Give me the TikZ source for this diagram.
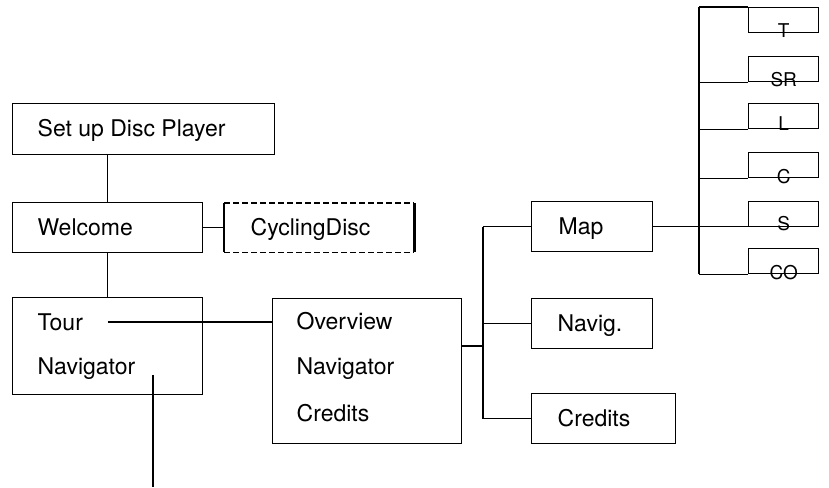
\documentclass[tikz,border=0pt]{standalone}
\usepackage{fontspec}
\setmainfont{TeX Gyre Heros}
\begin{document}
\begin{tikzpicture}[x=1pt,y=-1pt,
  line width=1.4pt,
  box/.style={draw, rectangle, anchor=north west, inner sep=0pt},
  lbl/.style={anchor=west, inner sep=0pt, font=\fontsize{23}{28}\selectfont, text height=16.5pt, text depth=0pt},
  sbox/.style={draw, rectangle, anchor=north west, inner sep=0pt, minimum width=70pt, minimum height=25pt},
  slbl/.style={inner sep=0pt, font=\fontsize{19}{23}\selectfont, text height=13.5pt, text depth=0pt}]
\useasboundingbox (0,0) rectangle (829,487);

% left column
\node[box, minimum width=262pt, minimum height=51pt] (setup) at (12,103) {};
\node[lbl] (setupt) at (37,128.5) {Set up Disc Player};
\node[box, minimum width=190pt, minimum height=50pt] (wel) at (12,202) {};
\node[lbl] (welt) at (37,227) {Welcome};
\node[inner sep=0pt, minimum width=189pt, minimum height=48pt, anchor=north west] (cyc) at (224,203) {};
\node[lbl] (cyct) at (250,227) {CyclingDisc};
\draw[dashed, dash pattern=on 6pt off 3pt] (cyc.north west) -- (cyc.north east);
\draw[dashed, dash pattern=on 6pt off 3pt] (cyc.south west) -- (cyc.south east);
\draw[line width=1.9pt] (cyc.north west) -- (cyc.south west);
\draw[line width=2.3pt] (cyc.north east) -- (cyc.south east);

\node[box, minimum width=190pt, minimum height=97pt] (tn) at (12,297) {};
\node[lbl] (tour) at (37,322) {Tour};
\node[lbl] (tnav) at (37,366) {Navigator};

% middle
\node[box, minimum width=189pt, minimum height=145pt] (ov) at (272,298) {};
\node[lbl] (ovt) at (296,321) {Overview};
\node[lbl] (ovn) at (296,366) {Navigator};
\node[lbl] (ovc) at (296,413) {Credits};

\node[box, minimum width=121pt, minimum height=50pt] (map) at (531,201) {};
\node[lbl] (mapt) at (558,226) {Map};
\node[box, minimum width=121pt, minimum height=50pt] (nav) at (531,298) {};
\node[lbl] (navt) at (557,323) {Navig.};
\node[box, minimum width=144pt, minimum height=50pt] (cred) at (531,393) {};
\node[lbl] (credt) at (557,418) {Credits};

% small boxes
\node[sbox] (bT) at (748,7) {};
\node[sbox] (bSR) at (748,56) {};
\node[sbox] (bL) at (748,103) {};
\node[sbox] (bC) at (748,152) {};
\node[sbox] (bS) at (748,201) {};
\node[sbox] (bCO) at (748,248) {};
\node[slbl] (tT) at ([yshift=3pt]bT.south) {T};
\node[slbl] (tSR) at ([yshift=3pt]bSR.south) {SR};
\node[slbl] (tL) at ([yshift=6pt]bL.south) {L};
\node[slbl] (tC) at ([yshift=2pt]bC.south) {C};
\node[slbl] (tS) at ([yshift=4pt]bS.south) {S};
\node[slbl] (tCO) at ([yshift=2pt]bCO.south) {CO};

% connectors
\coordinate (tk) at (699,0);
\coordinate (j1) at (483,346);
\coordinate (navend) at (153,487);

\draw (setup.south -| wel.north) -- (wel.north);
\draw (wel.south) -- (tn.north);
\draw (wel.east) -- (cyc.west);
\draw ([xshift=24pt]tour.east) -- (tour.east -| ov.west);
\draw (navend |- tnav.south) -- (navend);
\draw (ov.east |- j1) -- (j1);
\draw (j1 |- map.west) -- (j1 |- cred.west);
\draw (j1 |- map.west) -- (map.west);
\draw (j1 |- nav.west) -- (nav.west);
\draw (j1 |- cred.west) -- (cred.west);
\draw (map.east) -- (map.east -| bS.west);

\draw (tk |- bT.north west) -- (tk |- bCO.south west);
\draw (tk |- bT.north west) -- (bT.north west);
\draw (tk |- bSR.south west) -- (bSR.south west);
\draw (tk |- bL.south west) -- (bL.south west);
\draw (tk |- bC.south west) -- (bC.south west);
\draw (tk |- bCO.south west) -- (bCO.south west);
\end{tikzpicture}
\end{document}
